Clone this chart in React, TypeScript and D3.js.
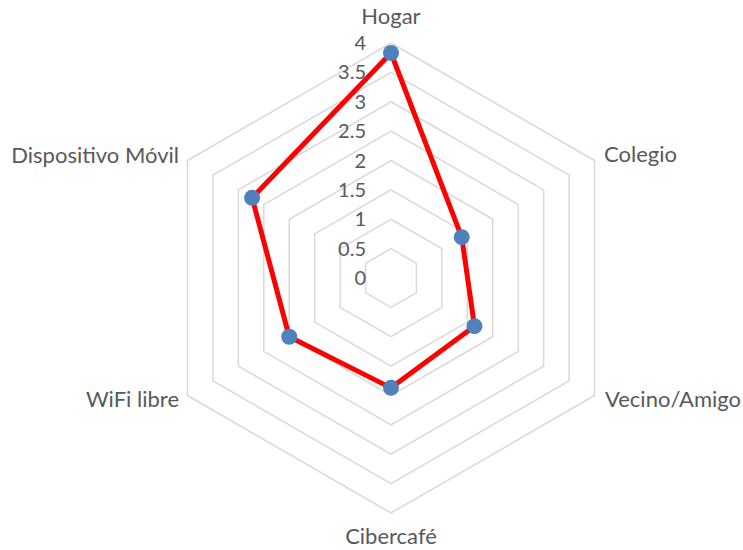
import React from "react";
import * as d3 from "d3";

const categories = ["Hogar", "Colegio", "Vecino/Amigo", "Cibercafé", "WiFi libre", "Dispositivo Móvil"];
const values = [3.83, 1.39, 1.64, 1.87, 2.0, 2.73];
const tickValues = [0, 0.5, 1, 1.5, 2, 2.5, 3, 3.5, 4];

const W = 743;
const H = 550;
const cx = 391;
const cy = 278;
const R = 235;
const FONT = "Lato, 'Open Sans', sans-serif";

export default function App() {
  const r = d3.scaleLinear().domain([0, 4]).range([0, R]);
  const n = categories.length;
  const angle = (i: number) => (i * 2 * Math.PI) / n;
  const pt = (i: number, v: number): [number, number] => [
    cx + r(v) * Math.sin(angle(i)),
    cy - r(v) * Math.cos(angle(i)),
  ];
  const closed = d3.line().curve(d3.curveLinearClosed);
  const rings = tickValues.filter((t) => t > 0);
  const dataPts = values.map((v, i) => pt(i, v));

  const labelPos: { x: number; y: number; anchor: string }[] = [
    { x: cx, y: 18, anchor: "middle" },
    { x: 604, y: 156, anchor: "start" },
    { x: 605, y: 401, anchor: "start" },
    { x: cx, y: 538, anchor: "middle" },
    { x: 179, y: 401, anchor: "end" },
    { x: 179, y: 157, anchor: "end" },
  ];

  return (
    <svg width={W} height={H} style={{ position: "absolute", left: 0, top: 0, background: "#fff" }}>
      <g fill="none" stroke="#d9d9d9" strokeWidth={1.5}>
        {rings.map((t) => (
          <path key={t} d={closed(categories.map((_, i) => pt(i, t)))!} />
        ))}
      </g>
      <g fill="#595959" fontFamily={FONT} fontSize={20} textAnchor="end">
        {tickValues.map((t) => (
          <text key={t} x={366} y={cy - r(t) + 2} dominantBaseline="middle">
            {t}
          </text>
        ))}
      </g>
      <path d={closed(dataPts)!} fill="none" stroke="#ff0000" strokeWidth={5} strokeLinejoin="round" />
      <g fill="#4f81bd">
        {dataPts.map((p, i) => (
          <circle key={i} cx={p[0]} cy={p[1]} r={8} />
        ))}
      </g>
      <g fill="#595959" fontFamily={FONT} fontSize={22}>
        {categories.map((c, i) => (
          <text key={c} x={labelPos[i].x} y={labelPos[i].y} textAnchor={labelPos[i].anchor as any} dominantBaseline="middle">
            {c}
          </text>
        ))}
      </g>
    </svg>
  );
}
